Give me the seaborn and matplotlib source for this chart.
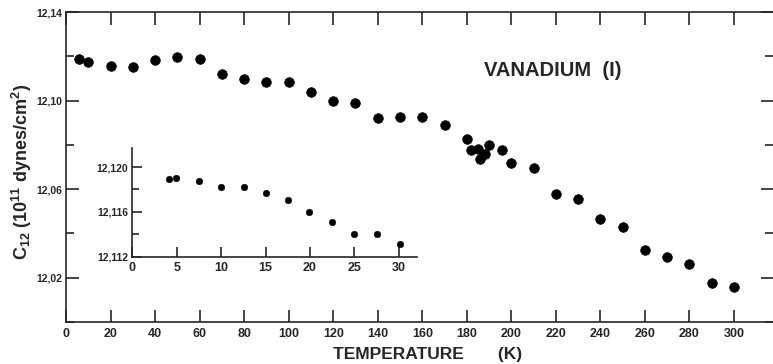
import matplotlib
matplotlib.use("Agg")
import matplotlib.pyplot as plt
import seaborn as sns
import pandas as pd
from matplotlib.ticker import MultipleLocator, FuncFormatter

# ---- data ----
temps_main = [6, 10, 20, 30, 40, 50, 60, 70, 80, 90, 100, 110, 120, 130, 140, 150,
              160, 170, 180, 182, 185, 186, 188, 190, 196, 200, 210, 220, 230, 240,
              250, 260, 270, 280, 290, 300]
c12_main = [12.1190, 12.1175, 12.1157, 12.1150, 12.1183, 12.1198, 12.1186, 12.1119,
            12.1097, 12.1082, 12.1083, 12.1039, 12.0997, 12.0990, 12.0920, 12.0926,
            12.0926, 12.0890, 12.0828, 12.0775, 12.0783, 12.0734, 12.0760, 12.0800,
            12.0778, 12.0720, 12.0696, 12.0576, 12.0555, 12.0466, 12.0428, 12.0325,
            12.0292, 12.0262, 12.0177, 12.0156]

temps_inset = [4.1, 4.9, 7.5, 10.0, 12.6, 15.0, 17.5, 19.9, 22.5, 25.0, 27.5, 30.1]
c12_inset = [12.11893, 12.11906, 12.11879, 12.11820, 12.11817, 12.11770, 12.11707,
             12.11595, 12.11506, 12.11402, 12.11404, 12.11310]

main_xticks = list(range(0, 301, 20))
main_yticks = [12.02, 12.06, 12.10, 12.14]
inset_xticks = [0, 5, 10, 15, 20, 25, 30]
inset_yticks = [12.112, 12.116, 12.120]

title_text = "VANADIUM  (I)"
xlabel_text = "TEMPERATURE       (K)"
ylabel_text = r"C$_{12}$ (10$^{11}$ dynes/cm$^{2}$)"

# ---- style ----
sns.set_style("ticks")
plt.rcParams['font.family'] = ['Liberation Sans', 'DejaVu Sans']
plt.rcParams['font.weight'] = 'bold'
plt.rcParams['mathtext.fontset'] = 'custom'
plt.rcParams['mathtext.rm'] = 'Liberation Sans:bold'
plt.rcParams['mathtext.default'] = 'rm'

fig = plt.figure(figsize=(7.73, 3.64), dpi=100)
W, H = 773, 364

def fx(px):
    return px / W

def fy(py):
    return (H - py) / H

# main axes
ax = fig.add_axes([fx(66), fy(322), (W - 66) / W, (322 - 12) / H])
df_main = pd.DataFrame({"T": temps_main, "C12": c12_main})
sns.scatterplot(data=df_main, x="T", y="C12", ax=ax, s=48, color="black",
                edgecolor="black", linewidth=0.5, zorder=3, legend=False)
ax.set_xlim(0, 317.5)
ax.set_ylim(12.00, 12.14)
ax.set_xticks(main_xticks)
ax.set_yticks(main_yticks)
ax.yaxis.set_minor_locator(MultipleLocator(0.02))
ax.yaxis.set_major_formatter(FuncFormatter(lambda v, p: f"{v:.2f}".replace(".", ",")))
ax.tick_params(axis='x', which='major', direction='in', length=9, width=1.2,
               top=True, bottom=True, labelsize=9, pad=4)
ax.tick_params(axis='y', which='major', direction='in', length=9, width=1.2,
               left=True, right=True, labelsize=7.5, pad=3)
ax.tick_params(axis='y', which='minor', direction='in', length=6, width=1.2,
               left=True, right=True)
for lab in ax.get_yticklabels() + ax.get_xticklabels():
    lab.set_fontweight('bold')
for s in ['left', 'bottom', 'top']:
    ax.spines[s].set_linewidth(1.2)
ax.spines['right'].set_visible(False)
ax.set_xlabel("")
ax.set_ylabel("")

fig.text(fx(428), fy(354), xlabel_text, fontsize=12.5, fontweight='bold',
         ha='center', va='center')
fig.text(fx(22), fy(172), ylabel_text, fontsize=13, fontweight='bold',
         ha='center', va='center', rotation=90)
fig.text(fx(553), fy(70), title_text, fontsize=14.5, fontweight='bold',
         ha='center', va='center')

# inset axes
ix0, ix1, iy0, iy1 = 132.3, 416.7, 256.5, 148
axi = fig.add_axes([fx(ix0), fy(iy0), (ix1 - ix0) / W, (iy0 - iy1) / H])
axi.patch.set_alpha(0)
df_in = pd.DataFrame({"T": temps_inset, "C12": c12_inset})
sns.scatterplot(data=df_in, x="T", y="C12", ax=axi, s=22, color="black",
                edgecolor="black", linewidth=0.4, zorder=3, legend=False)
axi.set_xlim(0, 32.0)
axi.set_ylim(12.112, 12.1217)
axi.set_xticks(inset_xticks)
axi.set_yticks(inset_yticks)
axi.yaxis.set_minor_locator(MultipleLocator(0.002))
axi.yaxis.set_major_formatter(FuncFormatter(lambda v, p: f"{v:.3f}".replace(".", ",")))
axi.tick_params(axis='x', direction='in', length=7, width=1.2, labelsize=9, pad=4)
axi.tick_params(axis='y', which='major', direction='in', length=7, width=1.2,
                labelsize=7.5, pad=3)
axi.tick_params(axis='y', which='minor', direction='in', length=5, width=1.2)
for lab in axi.get_yticklabels() + axi.get_xticklabels():
    lab.set_fontweight('bold')
axi.spines['top'].set_visible(False)
axi.spines['right'].set_visible(False)
axi.spines['left'].set_linewidth(1.2)
axi.spines['bottom'].set_linewidth(1.2)
axi.set_xlabel("")
axi.set_ylabel("")

fig.savefig("out.png", dpi=100)
